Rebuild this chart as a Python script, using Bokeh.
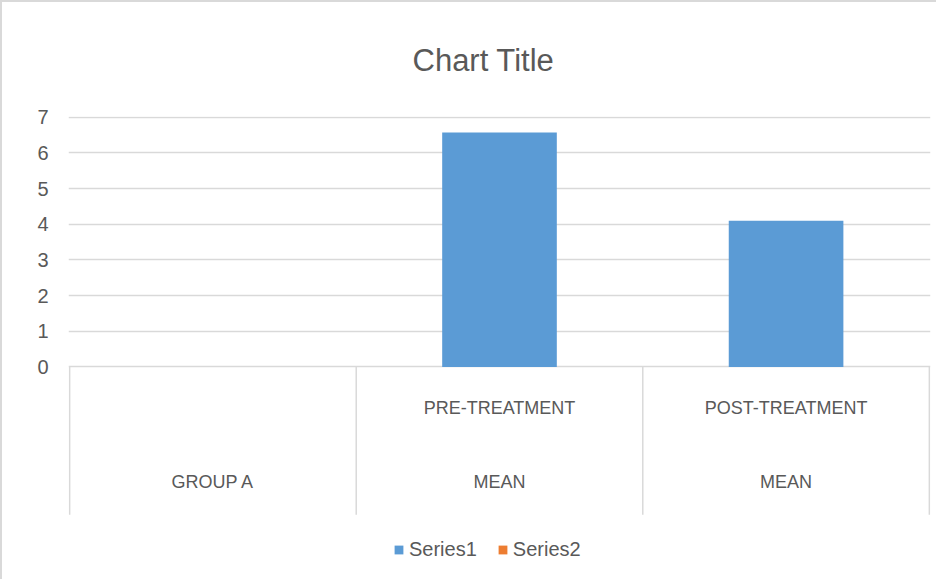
import numpy as np
from bokeh.plotting import figure
from bokeh.models import (Range1d, FixedTicker, Legend, LegendItem,
                          ColumnDataSource)
from bokeh.core.properties import value
from bokeh.embed import file_html
from bokeh.resources import INLINE

# ---- data ----
cat_top = ["", "PRE-TREATMENT", "POST-TREATMENT"]
cat_bottom = ["GROUP A", "MEAN", "MEAN"]
series1 = [np.nan, 6.57, 4.1]
series2 = [np.nan, np.nan, np.nan]
y_ticks = [0, 1, 2, 3, 4, 5, 6, 7]

FONT = "Liberation Sans"
GRAY = "#595959"
LINE = "#d9d9d9"
BLUE = "#5B9BD5"
ORANGE = "#ED7D31"

n = len(cat_top)
xc = [i + 0.5 for i in range(n)]
box_bottom = -4.14     # bottom of the category-label box under the axis
y_min = -5.9           # extra band below for the legend
y_max = max(y_ticks) + 0.02

p = figure(width=936, height=579, output_backend="svg", toolbar_location=None,
           x_range=Range1d(-0.004, n + 0.004), y_range=Range1d(y_min, y_max),
           x_axis_location=None, min_border_left=66, min_border_right=8,
           min_border_top=111, min_border_bottom=4)
p.styles = {"border-left": "2px solid #d9d9d9", "border-top": "2px solid #d9d9d9"}

p.title.text = "Chart Title"
p.title.align = "left"
p.title.offset = 344
p.title.text_font = FONT
p.title.text_font_size = "31px"
p.title.text_font_style = "normal"
p.title.text_color = GRAY
p.title.standoff = 77

p.outline_line_color = None
p.xgrid.visible = False
p.ygrid.ticker = FixedTicker(ticks=y_ticks)
p.ygrid.grid_line_color = LINE
p.ygrid.grid_line_width = 1.5

ya = p.yaxis[0]
ya.ticker = FixedTicker(ticks=y_ticks)
ya.axis_line_color = None
ya.major_tick_line_color = None
ya.minor_tick_line_color = None
ya.major_tick_in = 0
ya.major_tick_out = 0
ya.major_label_standoff = 20
ya.major_label_text_font = FONT
ya.major_label_text_font_size = "20px"
ya.major_label_text_color = GRAY

src = ColumnDataSource(dict(x=xc, s1=series1, s2=series2,
                            top=cat_top, bottom=cat_bottom))

r1 = p.vbar(x="x", top="s1", bottom=0, width=0.4, source=src,
            fill_color=BLUE, line_color=None)
r2 = p.vbar(x="x", top="s2", bottom=0, width=0.4, source=src,
            fill_color=ORANGE, line_color=None)

# category box under the axis
bounds = list(range(n + 1))
p.segment(x0=bounds, y0=[0] * len(bounds), x1=bounds,
          y1=[box_bottom] * len(bounds), line_color=LINE, line_width=1.5)

p.text(x="x", y=-1.14, text="top", source=src, text_align="center",
       text_baseline="middle", text_font=value(FONT), text_font_size="18px",
       text_color=GRAY)
p.text(x="x", y=-3.22, text="bottom", source=src, text_align="center",
       text_baseline="middle", text_font=value(FONT), text_font_size="18px",
       text_color=GRAY)

legend = Legend(items=[LegendItem(label="Series1", renderers=[r1]),
                       LegendItem(label="Series2", renderers=[r2])],
                orientation="horizontal", location=(325, 16),
                glyph_width=11, glyph_height=11, label_standoff=5, spacing=20,
                label_text_font=FONT, label_text_font_size="20px",
                label_text_color=GRAY, padding=0, margin=0,
                border_line_color=None, background_fill_alpha=0,
                label_height=20)
p.add_layout(legend, "center")

open("out.html", "w").write(file_html(p, INLINE))
